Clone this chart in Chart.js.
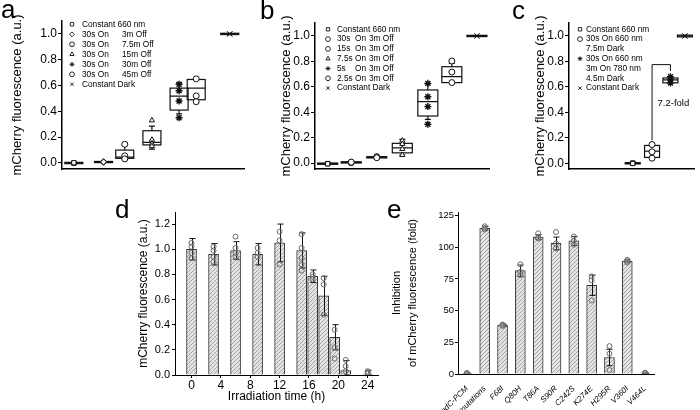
<!DOCTYPE html>
<html>
<head>
<meta charset="utf-8">
<script src="https://cdn.jsdelivr.net/npm/chart.js@4.4.1/dist/chart.umd.min.js"></script>
<style>
  body { margin: 0; background: #fff; }
  #wrap { position: relative; width: 700px; height: 410px; overflow: hidden; font-family: "Liberation Sans", Arial, sans-serif; }
  canvas { position: absolute; }
  .tag { position: absolute; font-size: 26px; line-height: 26px; color: #000; }
</style>
</head>
<body>
<div id="wrap">
  <canvas id="chartA" width="250" height="180" style="left:0;top:0"></canvas>
  <canvas id="chartB" width="245" height="180" style="left:250px;top:0"></canvas>
  <canvas id="chartC" width="205" height="180" style="left:495px;top:0"></canvas>
  <canvas id="chartD" width="285" height="210" style="left:100px;top:200px"></canvas>
  <canvas id="chartE" width="315" height="210" style="left:385px;top:200px"></canvas>
  <div class="tag" style="left:1px;top:-4px">a</div>
  <div class="tag" style="left:260px;top:-3px">b</div>
  <div class="tag" style="left:512px;top:-3px">c</div>
  <div class="tag" style="left:115px;top:196px">d</div>
  <div class="tag" style="left:387px;top:196px">e</div>
</div>
<script>
// ---- data: panel a ----
const aNames = ['Constant 660 nm', '30s On|3m Off', '30s On|7.5m Off', '30s On|15m Off', '30s On|30m Off', '30s On|45m Off', 'Constant Dark'];
const aPos = [0.52, 1.82, 2.75, 3.94, 5.13, 5.88, 7.35];
const aPoints = [
    [0, 0, 0.002],
    [0.005, 0.011, 0.008],
    [0.145, 0.055, 0.032],
    [0.33, 0.18, 0.15, 0.13],
    [0.61, 0.56, 0.48, 0.35],
    [0.652, 0.52, 0.475],
    [1, 1]
];
// [whisker low, q1, median, q3, whisker high]
const aBoxes = [
    [-0.005, -0.005, 0, 0.005, 0.005],
    [0.003, 0.003, 0.008, 0.012, 0.012],
    [0.03, 0.036, 0.045, 0.10, 0.14],
    [0.108, 0.14, 0.16, 0.25, 0.285],
    [0.38, 0.41, 0.518, 0.58, 0.62],
    [0.49, 0.49, 0.58, 0.647, 0.647],
    [0.995, 0.995, 1, 1.005, 1.005]
];

// ---- data: panel b ----
const bNames = ['Constant 660 nm', '30s|On|3m Off', '15s|On|3m Off', '7.5s|On|3m Off', '5s|On|3m Off', '2.5s|On|3m Off', 'Constant Dark'];
const bPos = [0.58, 1.66, 2.83, 4.0, 5.17, 6.27, 7.42];
const bPoints = [
    [-0.005, -0.004, -0.006],
    [0.005, 0.003, 0.007],
    [0.05, 0.045, 0.042],
    [0.176, 0.15, 0.11, 0.063],
    [0.627, 0.522, 0.444, 0.305],
    [0.803, 0.716, 0.633],
    [1, 1]
];
const bBoxes = [
    [-0.01, -0.01, -0.005, 0, 0],
    [0, 0, 0.005, 0.01, 0.01],
    [0.04, 0.04, 0.045, 0.05, 0.05],
    [0.063, 0.08, 0.12, 0.155, 0.186],
    [0.344, 0.37, 0.483, 0.575, 0.622],
    [0.633, 0.633, 0.68, 0.758, 0.785],
    [0.995, 0.995, 1, 1.005, 1.005]
];

// ---- data: panel c ----
const cNames = ['Constant 660 nm', '30s On 660 nm', '7.5m Dark', '30s On 660 nm', '3m On 780 nm', '4.5m Dark', 'Constant Dark'];
const cPos = [4.06, 5.29, 6.46, 7.38];
const cPoints = [
    [0, 0.002, -0.002],
    [0.147, 0.09, 0.04],
    [0.68, 0.655, 0.63],
    [1, 1]
];
const cBoxes = [
    [-0.005, -0.005, 0, 0.005, 0.005],
    [0.046, 0.046, 0.095, 0.14, 0.14],
    [0.632, 0.632, 0.655, 0.67, 0.67],
    [0.993, 0.993, 1, 1.007, 1.007]
];
const cFold = '7.2-fold';

const fluorTicks = [0, 0.2, 0.4, 0.6, 0.8, 1.0];

// ---- data: panel d ----
const dTimes = [0, 3, 6, 9, 12, 15, 16.5, 18, 19.5, 21, 24];
const dMeans = [1.00, 0.96, 0.99, 0.96, 1.05, 0.99, 0.785, 0.63, 0.30, 0.035, 0.008];
const dSD = [0.085, 0.085, 0.07, 0.085, 0.15, 0.14, 0.05, 0.155, 0.10, 0.08, 0.03];
const dPoints = [
    [1.05, 1.02, 0.97, 0.93],
    [1.02, 0.99, 0.94, 0.90],
    [1.10, 1.01, 0.97, 0.94],
    [1.01, 0.97, 0.94],
    [1.14, 1.07, 0.88],
    [1.12, 1.01, 0.93, 0.88, 0.83],
    [0.80, 0.78, 0.76],
    [0.77, 0.72, 0.48],
    [0.36, 0.22, 0.13],
    [0.12, 0.07, 0.03],
    [0.03, 0.02, 0.01]
];
const dTicks = [0, 4, 8, 12, 16, 20, 24];
const dYTicks = [0, 0.2, 0.4, 0.6, 0.8, 1.0, 1.2];

// ---- data: panel e ----
const eLabels = ['IaPadC-PCM', 'no mutations', 'F68I', 'Q80H', 'T86A', 'S90R', 'C242S', 'K274E', 'H295R', 'V360I', 'V464L'];
const eMeans = [0.5, 115, 38.5, 81.5, 108, 103, 105, 70, 13, 89, 0.8];
const eSD = [0.5, 1.5, 0.8, 4.5, 2, 5, 3.5, 8, 6.5, 1, 0.3];
const ePoints = [
    [0.3, 0.5, 0.8],
    [116.5, 115, 114],
    [39, 38.5, 38],
    [86.5, 80.5, 78],
    [111, 108, 107],
    [112, 103, 99],
    [108.5, 105, 102],
    [77, 74, 58],
    [22, 16, 3],
    [90, 89, 88],
    [1, 0.8, 0.6]
];
const eYTicks = [0, 25, 50, 75, 100, 125];

// ---- styles ----
const FONT = "'Liberation Sans', Arial, sans-serif";
Chart.defaults.font.family = FONT;
Chart.defaults.color = '#000';
Chart.defaults.animation = false;
Chart.defaults.plugins.legend.display = false;
Chart.defaults.plugins.tooltip.enabled = false;

const aStyles = ['rect', 'rectRot', 'circle', 'triangle', 'star', 'circle', 'crossRot'];
const bStyles = ['rect', 'circle', 'circle', 'triangle', 'star', 'circle', 'crossRot'];
const cStyles = ['rect', 'circle', 'star', 'crossRot'];
const cLegendStyles = ['rect', 'circle', null, 'star', null, null, 'crossRot'];

function hatch(bg, fg) {
    const c = document.createElement('canvas');
    c.width = 4; c.height = 4;
    const g = c.getContext('2d');
    g.fillStyle = bg;
    g.fillRect(0, 0, 4, 4);
    g.strokeStyle = fg;
    g.lineWidth = 1;
    g.beginPath();
    g.moveTo(0, 4); g.lineTo(4, 0);
    g.moveTo(-1, 1); g.lineTo(1, -1);
    g.moveTo(3, 5); g.lineTo(5, 3);
    g.stroke();
    return g.createPattern(c, 'repeat');
}
const barFill = hatch('#e4e4e4', '#a4a4a4');

function pointSets(pos, points, styles) {
    return points.map((vals, i) => ({
        data: vals.map(v => ({ x: pos[i], y: v })),
        pointStyle: styles[i],
        pointRadius: styles[i] === 'star' || styles[i] === 'crossRot' ? 3.5 : 3,
        pointBorderWidth: styles[i] === 'star' ? 1.4 : 1,
        pointBorderColor: '#111',
        pointBackgroundColor: '#fff'
    }));
}

// box & whisker drawn from the stats arrays
function boxPlugin(pos, boxes, boxW) {
    return {
        id: 'boxes',
        beforeDatasetsDraw(chart) {
            const { ctx, scales: { x, y } } = chart;
            ctx.save();
            ctx.strokeStyle = '#111';
            ctx.lineWidth = 1.2;
            boxes.forEach((b, i) => {
                const cx = x.getPixelForValue(pos[i]);
                const [lo, q1, med, q3, hi] = b.map(v => y.getPixelForValue(v));
                const hw = boxW / 2;
                ctx.strokeRect(cx - hw, q3, boxW, q1 - q3);
                ctx.beginPath();
                ctx.moveTo(cx - hw, med); ctx.lineTo(cx + hw, med);
                if (q3 - hi > 1) {
                    ctx.moveTo(cx, q3); ctx.lineTo(cx, hi);
                    ctx.moveTo(cx - 3, hi); ctx.lineTo(cx + 3, hi);
                }
                if (lo - q1 > 1) {
                    ctx.moveTo(cx, q1); ctx.lineTo(cx, lo);
                    ctx.moveTo(cx - 3, lo); ctx.lineTo(cx + 3, lo);
                }
                ctx.stroke();
            });
            ctx.restore();
        }
    };
}

// legend text drawn inside the plot area
function legendPlugin(names, styles, opt) {
    return {
        id: 'legendBox',
        afterDraw(chart) {
            const ctx = chart.ctx, area = chart.chartArea;
            ctx.save();
            ctx.textBaseline = 'middle';
            ctx.font = '8.3px ' + FONT;
            names.forEach((txt, i) => {
                const yy = area.top + opt.top + i * opt.dy;
                if (styles[i]) {
                    ctx.fillStyle = '#fff';
                    ctx.strokeStyle = '#111';
                    ctx.lineWidth = 0.9;
                    Chart.helpers.drawPoint(ctx, { pointStyle: styles[i], radius: 2.4, borderWidth: 1, rotation: 0 }, area.left + opt.sym, yy);
                }
                ctx.fillStyle = '#000';
                txt.split('|').forEach((part, k) => ctx.fillText(part, area.left + opt.cols[k], yy));
            });
            ctx.restore();
        }
    };
}

function fluorY(min, max, width) {
    return {
        type: 'linear', min, max,
        afterBuildTicks: s => { s.ticks = fluorTicks.map(v => ({ value: v })); },
        afterFit: s => { s.width = width; },
        border: { display: true, color: '#000', width: 1.5 },
        grid: { display: true, drawOnChartArea: false, drawTicks: true, tickLength: 4, color: '#000' },
        ticks: { font: { size: 12 }, padding: 1, callback: v => v.toFixed(1) },
        title: { display: true, text: 'mCherry fluorescence (a.u.)', font: { size: 13 }, padding: 0 }
    };
}
function blankX() {
    return {
        type: 'linear', min: 0, max: 8,
        afterFit: s => { s.height = 11; },
        border: { display: true, color: '#000', width: 1.5 },
        grid: { display: false },
        ticks: { display: false }
    };
}

// --- a ---
new Chart(document.getElementById('chartA'), {
    type: 'scatter',
    data: { datasets: pointSets(aPos, aPoints, aStyles) },
    options: {
        responsive: false,
        layout: { padding: { left: 10, top: 21, right: 3, bottom: 0 } },
        scales: { x: blankX(), y: fluorY(-0.0465, 1.10, 52) }
    },
    plugins: [boxPlugin(aPos, aBoxes, 18), legendPlugin(aNames, aStyles, { top: 3.3, dy: 10, sym: 10, cols: [20, 60] })]
});

// --- b ---
new Chart(document.getElementById('chartB'), {
    type: 'scatter',
    data: { datasets: pointSets(bPos, bPoints, bStyles) },
    options: {
        responsive: false,
        layout: { padding: { left: 29, top: 23, right: 2, bottom: 0 } },
        scales: { x: blankX(), y: fluorY(-0.047, 1.102, 36) }
    },
    plugins: [boxPlugin(bPos, bBoxes, 20), legendPlugin(bNames, bStyles, { top: 6.3, dy: 9.8, sym: 13, cols: [22, 40, 54] })]
});

// --- c ---
const foldPlugin = {
    id: 'fold',
    afterDatasetsDraw(chart) {
        const { ctx, scales: { x, y } } = chart;
        const x1 = x.getPixelForValue(cPos[1]), x2 = x.getPixelForValue(cPos[2]);
        ctx.save();
        ctx.strokeStyle = '#111';
        ctx.lineWidth = 1;
        ctx.beginPath();
        ctx.moveTo(x1, y.getPixelForValue(0.18));
        ctx.lineTo(x1, y.getPixelForValue(0.775));
        ctx.lineTo(x2, y.getPixelForValue(0.775));
        ctx.lineTo(x2, y.getPixelForValue(0.725));
        ctx.stroke();
        ctx.fillStyle = '#000';
        ctx.font = '9.5px ' + FONT;
        ctx.textAlign = 'center';
        ctx.textBaseline = 'middle';
        ctx.fillText(cFold, x2 + 3, y.getPixelForValue(0.47));
        ctx.restore();
    }
};
new Chart(document.getElementById('chartC'), {
    type: 'scatter',
    data: { datasets: pointSets(cPos, cPoints, cStyles) },
    options: {
        responsive: false,
        layout: { padding: { left: 38, top: 23, right: 0, bottom: 0 } },
        scales: { x: blankX(), y: fluorY(-0.045, 1.102, 36) }
    },
    plugins: [boxPlugin(cPos, cBoxes, 15), foldPlugin, legendPlugin(cNames, cLegendStyles, { top: 6.3, dy: 9.8, sym: 11, cols: [17] })]
});

// error bars for the bar panels
function errPlugin(xVals, means, sds) {
    return {
        id: 'errbars',
        afterDatasetDraw(chart, args) {
            if (args.meta.type !== 'bar') return;
            const { ctx, scales: { x, y } } = chart;
            ctx.save();
            ctx.strokeStyle = '#111';
            ctx.lineWidth = 1;
            means.forEach((m, i) => {
                const px = Math.round(x.getPixelForValue(xVals[i])) + 0.5;
                const hi = y.getPixelForValue(m + sds[i]);
                const lo = y.getPixelForValue(Math.max(0, m - sds[i]));
                ctx.beginPath();
                ctx.moveTo(px, hi); ctx.lineTo(px, lo);
                ctx.moveTo(px - 3, hi); ctx.lineTo(px + 3, hi);
                ctx.moveTo(px - 3, lo); ctx.lineTo(px + 3, lo);
                ctx.stroke();
            });
            ctx.restore();
        }
    };
}
const dotStyle = { pointStyle: 'circle', pointRadius: 2.5, pointBorderWidth: 1, pointBorderColor: '#6a6a6a', pointBackgroundColor: 'rgba(255,255,255,0.15)' };

// --- d ---
new Chart(document.getElementById('chartD'), {
    type: 'bar',
    data: {
        datasets: [
            { type: 'bar', order: 2, data: dTimes.map((t, i) => ({ x: t, y: dMeans[i] })), barThickness: 10, backgroundColor: barFill, borderColor: '#333', borderWidth: 1 },
            Object.assign({ type: 'scatter', order: 1, data: dPoints.flatMap((vals, i) => vals.map(v => ({ x: dTimes[i], y: v }))) }, dotStyle)
        ]
    },
    options: {
        responsive: false,
        layout: { padding: { left: 36, top: 12, right: 7, bottom: 0 } },
        scales: {
            x: {
                type: 'linear', min: -2.25, max: 25.4, offset: false,
                afterBuildTicks: s => { s.ticks = dTicks.map(v => ({ value: v })); },
                afterFit: s => { s.height = 35; },
                border: { display: true, color: '#000', width: 1 },
                grid: { display: true, offset: false, drawOnChartArea: false, tickLength: 3, color: '#000' },
                ticks: { font: { size: 12 }, padding: 0 },
                title: { display: true, text: 'Irradiation time (h)', font: { size: 12 }, padding: { top: 0, bottom: 6 } }
            },
            y: {
                type: 'linear', min: 0, max: 1.296,
                afterBuildTicks: s => { s.ticks = dYTicks.map(v => ({ value: v })); },
                afterFit: s => { s.width = 39; },
                border: { display: true, color: '#000', width: 1 },
                grid: { display: true, drawOnChartArea: false, tickLength: 3, color: '#000' },
                ticks: { font: { size: 11 }, padding: 2, callback: v => v.toFixed(1) },
                title: { display: true, text: 'mCherry fluorescence (a.u.)', font: { size: 12 }, padding: 0 }
            }
        }
    },
    plugins: [errPlugin(dTimes, dMeans, dSD)]
});

// --- e ---
new Chart(document.getElementById('chartE'), {
    type: 'bar',
    data: {
        labels: eLabels,
        datasets: [
            { type: 'bar', order: 2, data: eMeans, barThickness: 10, backgroundColor: barFill, borderColor: '#333', borderWidth: 1 },
            Object.assign({ type: 'scatter', order: 1, data: ePoints.flatMap((vals, i) => vals.map(v => ({ x: eLabels[i], y: v }))) }, dotStyle)
        ]
    },
    options: {
        responsive: false,
        layout: { padding: { left: 4, top: 12, right: 46, bottom: 0 } },
        scales: {
            x: {
                type: 'category',
                afterFit: s => { s.height = 36; },
                border: { display: true, color: '#000', width: 1 },
                grid: { display: false },
                ticks: { font: { size: 8, style: 'italic' }, padding: 2, autoSkip: false, minRotation: 45, maxRotation: 45 }
            },
            y: {
                type: 'linear', min: 0, max: 127.8,
                afterBuildTicks: s => { s.ticks = eYTicks.map(v => ({ value: v })); },
                afterFit: s => { s.width = 69; },
                border: { display: true, color: '#000', width: 1 },
                grid: { display: true, drawOnChartArea: false, tickLength: 3, color: '#000' },
                ticks: { font: { size: 9.5 }, padding: 1 },
                title: { display: true, text: ['Inhibition', 'of mCherry fluorescence (fold)'], font: { size: 11, lineHeight: 1.45 }, padding: 0 }
            }
        }
    },
    plugins: [errPlugin(eLabels.map((_, i) => i), eMeans, eSD)]
});
</script>
</body>
</html>
